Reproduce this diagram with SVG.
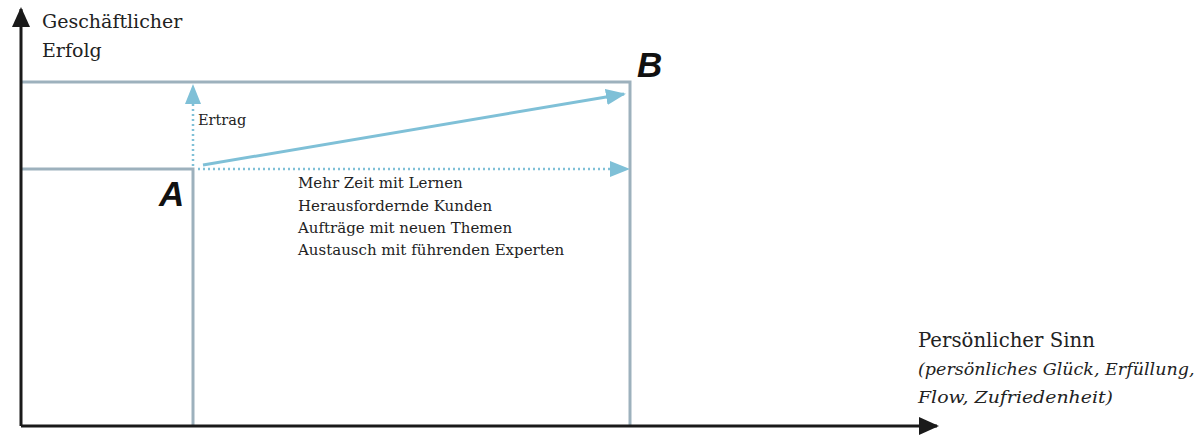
<svg xmlns="http://www.w3.org/2000/svg" width="1203" height="435" viewBox="0 0 1203 435">
<style>
.t{font-family:"DejaVu Serif","Liberation Serif",serif;fill:#222}
.grid{stroke:#9db1bd;stroke-width:3;fill:none}
.ax{stroke:#1a1a1a;stroke-width:3;fill:none}
.blue{stroke:#7fc0d7;stroke-width:3;fill:none}
.dot{stroke:#7fc0d7;stroke-width:2.5;fill:none;stroke-dasharray:2 3}
.lbl{font-family:"Liberation Sans",Arial,sans-serif;font-weight:bold;font-style:italic;font-size:35px;fill:#111}
</style>
<defs>
<marker id="ab" markerWidth="20" markerHeight="16" refX="18" refY="8" orient="auto" markerUnits="userSpaceOnUse"><path d="M0,0 L20,8 L0,16 Z" fill="#7fc0d7"/></marker>
<marker id="ak" markerWidth="20" markerHeight="18" refX="18" refY="9" orient="auto" markerUnits="userSpaceOnUse"><path d="M0,0 L20,9 L0,18 Z" fill="#1a1a1a"/></marker>
</defs>
<g id="grid">
<polyline class="grid" points="21,82 630,82 630,426"/>
<polyline class="grid" points="21,169 193,169 193,426"/>
</g>
<g id="axes">
<line class="ax" x1="21" y1="426" x2="21" y2="9" marker-end="url(#ak)"/>
<line class="ax" x1="21" y1="426" x2="937" y2="426" marker-end="url(#ak)"/>
</g>
<g id="connectors">
<line class="dot" x1="193" y1="166" x2="193" y2="86" marker-end="url(#ab)"/>
<line class="blue" x1="203" y1="165" x2="624" y2="94" marker-end="url(#ab)"/>
<line class="dot" x1="198" y1="169" x2="628" y2="169" marker-end="url(#ab)"/>
</g>
<g id="labels">
<text class="t" x="42" y="28" font-size="19">Geschäftlicher</text>
<text class="t" x="42" y="57" font-size="19">Erfolg</text>
<text class="t" x="198" y="125" font-size="14.5">Ertrag</text>
<text class="lbl" x="159" y="206">A</text>
<text class="lbl" x="637" y="77">B</text>
<text class="t" font-size="15"><tspan x="298" y="188">Mehr Zeit mit Lernen</tspan><tspan x="298" y="211">Herausfordernde Kunden</tspan><tspan x="298" y="233">Aufträge mit neuen Themen</tspan><tspan x="298" y="255">Austausch mit führenden Experten</tspan></text>
<text class="t" x="918" y="347" font-size="19.7">Persönlicher Sinn</text>
<text class="t" x="918" y="375" font-size="17.5" font-style="italic">(persönliches Glück, Erfüllung,</text>
<text class="t" x="918" y="403" font-size="17.5" font-style="italic" textLength="195" lengthAdjust="spacingAndGlyphs">Flow, Zufriedenheit)</text>
</g>
</svg>
